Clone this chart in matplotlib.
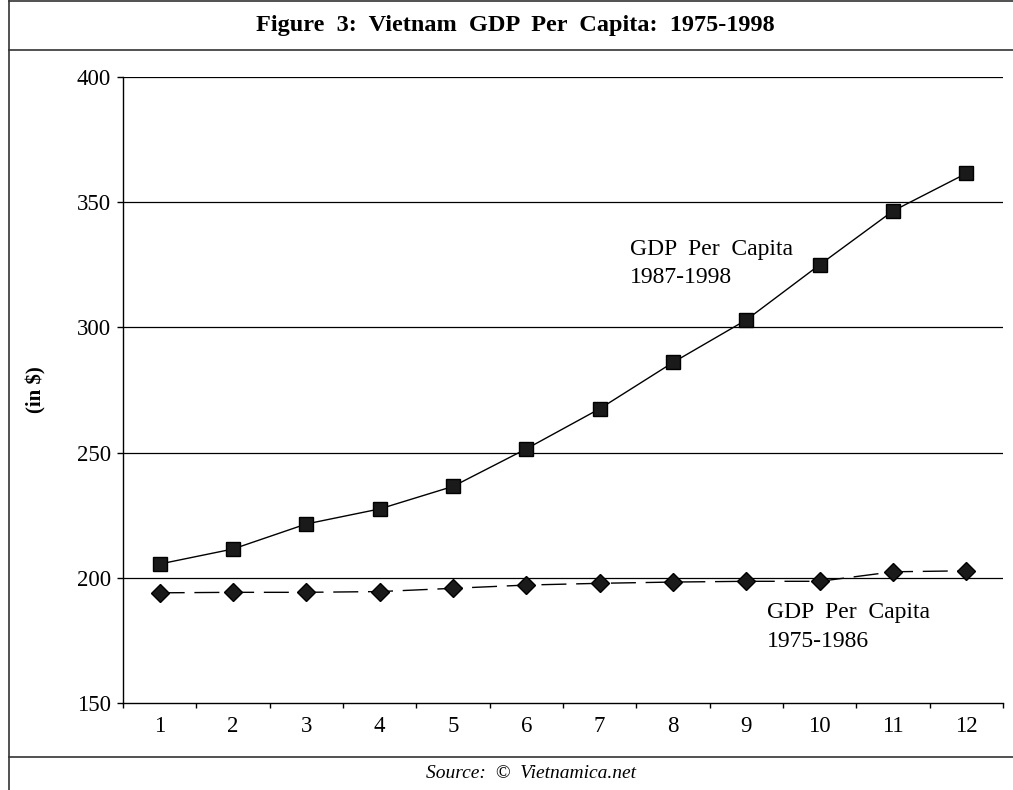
import numpy as np
import matplotlib.pyplot as plt
from matplotlib.lines import Line2D

plt.rcParams['font.family'] = ['Liberation Serif', 'DejaVu Serif']

# data
periods = [1, 2, 3, 4, 5, 6, 7, 8, 9, 10, 11, 12]
gdp_1987_1998 = [205.5, 211.5, 221.5, 227.5, 236.5, 251.5, 267.5, 286, 303, 325, 346.5, 361.5]
gdp_1975_1986 = [194.0, 194.2, 194.2, 194.5, 195.8, 197.1, 197.8, 198.3, 198.6, 198.6, 202.4, 202.8]
yticks = [150, 200, 250, 300, 350, 400]

fig = plt.figure(figsize=(10.13, 7.9), dpi=100)
ax = fig.add_axes([123/1013, 1-703/790, 880/1013, 626/790])

for y in yticks[1:]:
    ax.axhline(y, color='black', lw=0.9, zorder=1)

ax.plot(periods, gdp_1987_1998, color='black', lw=1.0, marker='s', ms=10.5,
        markerfacecolor='#1a1a1a', zorder=3)
ax.plot(periods, gdp_1975_1986, color='black', lw=1.0, marker='D', ms=9.5,
        markerfacecolor='#1a1a1a', dashes=(18, 7), zorder=3)

ax.set_xlim(0.5, 12.5)
ax.set_ylim(150, 400)
ax.set_yticks(yticks)
ax.set_yticklabels([str(v) for v in yticks], fontsize=16.5)

ax.set_xticks(np.arange(0.5, 13, 1))
ax.set_xticklabels([])
ax.set_xticks(periods, minor=True)
ax.set_xticklabels([str(p) for p in periods], minor=True, fontsize=16.5)
ax.tick_params(axis='x', which='major', direction='out', length=3.5, width=1)
ax.tick_params(axis='x', which='minor', length=0, pad=9)
ax.tick_params(axis='y', direction='out', length=4.5, width=1, pad=4)

ax.spines['top'].set_visible(False)
ax.spines['right'].set_visible(False)
ax.spines['left'].set_linewidth(1)
ax.spines['bottom'].set_linewidth(1)

# series labels
ax.text(7.41, 328.9, 'GDP  Per  Capita', fontsize=17, va='baseline', ha='left')
ax.text(7.41, 317.7, '1987-1998', fontsize=17, va='baseline', ha='left')
ax.text(9.28, 183.9, 'GDP  Per  Capita', fontsize=17, va='baseline', ha='left')
ax.text(9.28, 172.4, '1975-1986', fontsize=17, va='baseline', ha='left')

fig.text(36/1013, 1-390/790, '(in $)', rotation=90, ha='center', va='center',
         fontsize=15, fontweight='bold')

# frame and title boxes
def hline(y, x0=9/1013, x1=1.0):
    fig.add_artist(Line2D([x0, x1], [y, y], color='#333333', lw=1.2,
                          transform=fig.transFigure))

hline(1-1/790)
hline(1-50/790)
hline(1-757/790)
fig.add_artist(Line2D([9/1013, 9/1013], [0, 1-1/790], color='#333333', lw=1.2,
                      transform=fig.transFigure))

fig.text(515/1013, 1-25/790, 'Figure  3:  Vietnam  GDP  Per  Capita:  1975-1998',
         ha='center', va='center', fontsize=17.5, fontweight='bold')
fig.text(531/1013, 1-774/790, 'Source:  \u00a9  Vietnamica.net', ha='center',
         va='center', fontsize=14, style='italic')

plt.savefig('out.png', dpi=100)
